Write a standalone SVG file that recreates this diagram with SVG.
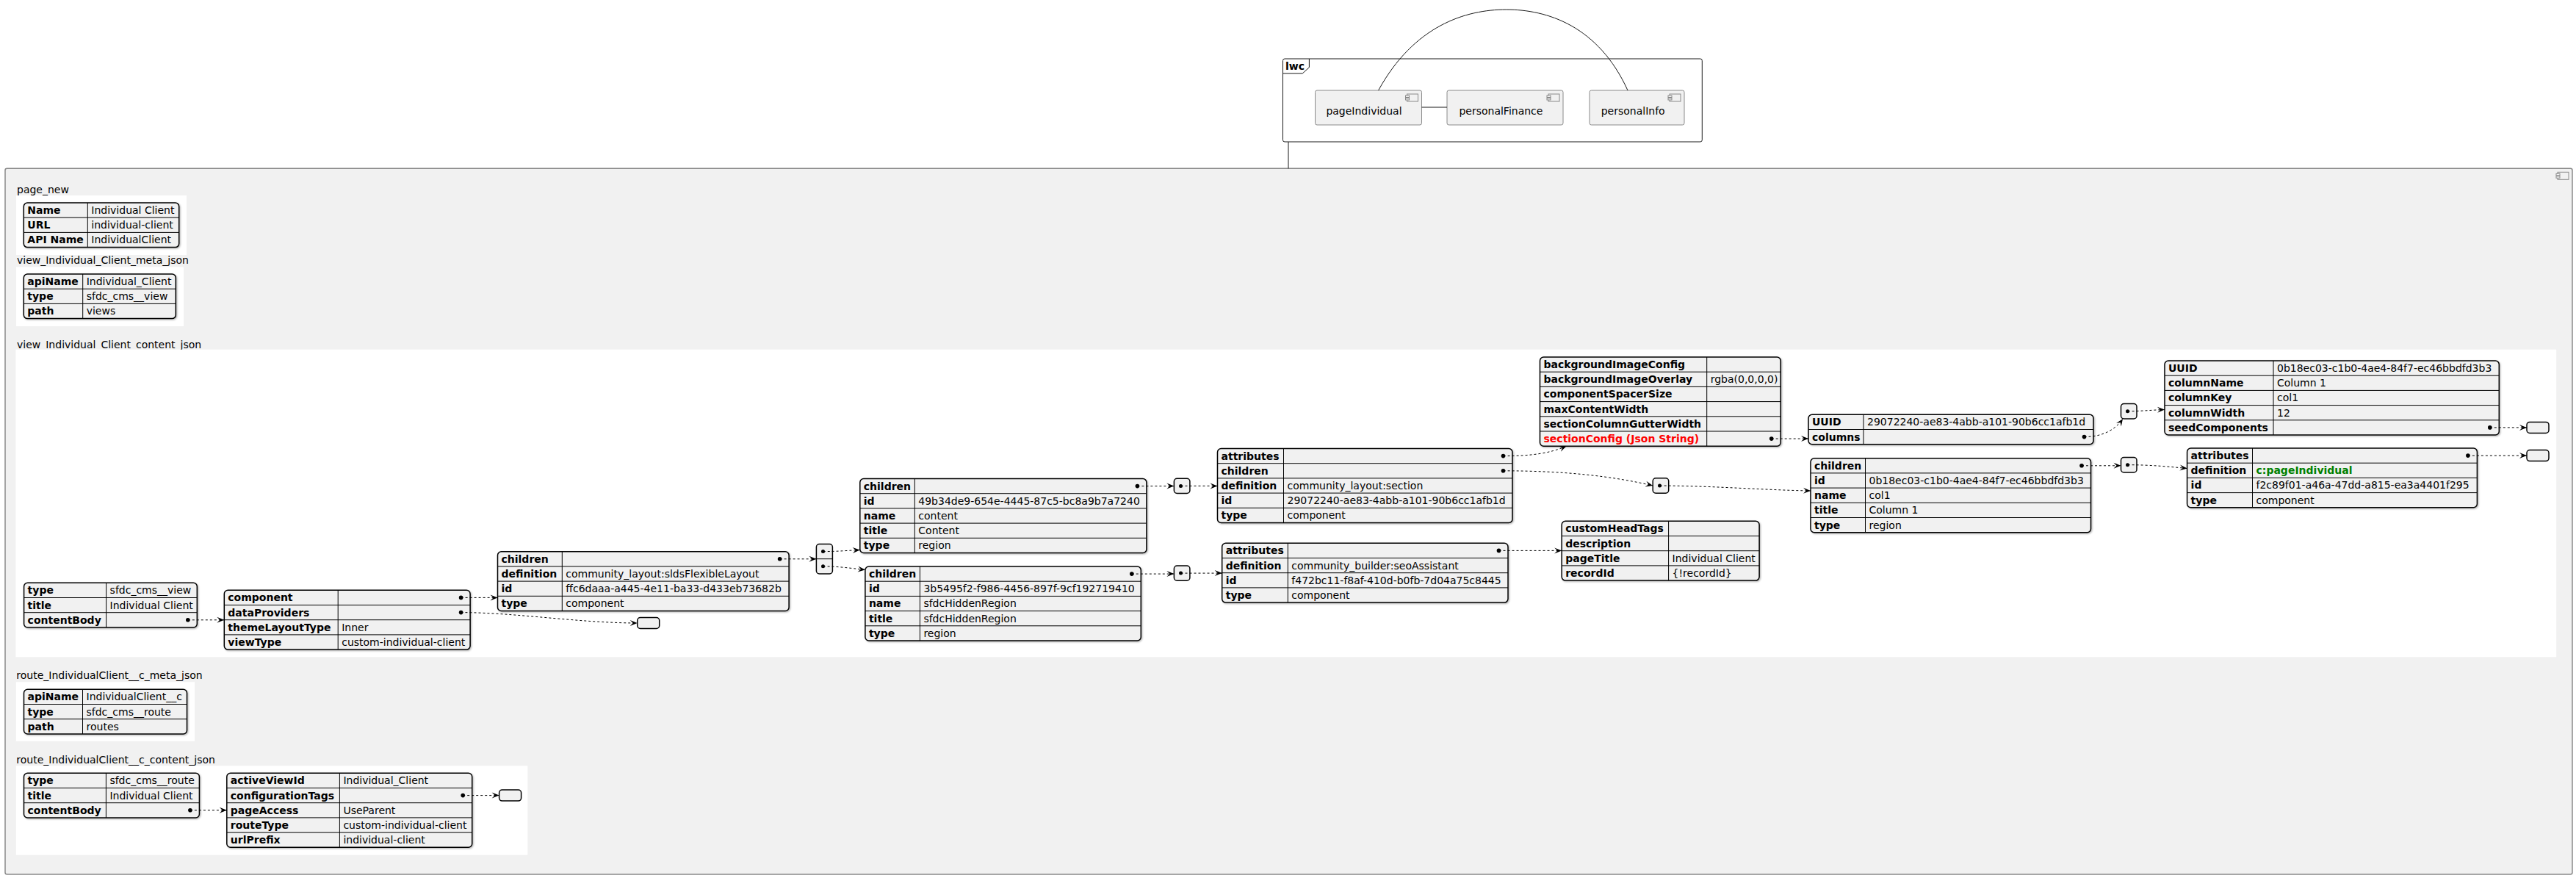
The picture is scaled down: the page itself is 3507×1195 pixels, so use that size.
<svg xmlns="http://www.w3.org/2000/svg" width="3507" height="1195" viewBox="0 0 3507 1195">
<style>
text{font-family:"DejaVu Sans","Liberation Sans",sans-serif;font-size:14px;fill:#000}
.k{font-weight:bold}
.box{fill:#F1F1F1;stroke:#000;stroke-width:1.5}
.grid{fill:none;stroke:#000;stroke-width:1}
.dot{fill:#000}
.lbox{fill:#F1F1F1;stroke:#000;stroke-width:1.5}
.wbg{fill:#FFFFFF}
.c{fill:none;stroke:#000;stroke-width:1;stroke-dasharray:3 3}
.comp{fill:#F1F1F1;stroke:#8A8A8A;stroke-width:1}
.cl{fill:none;stroke:#181818;stroke-width:1}
.red{fill:#FF0000;font-weight:bold}
.green{fill:#008000;font-weight:bold}
</style>
<defs>
<marker id="ah" markerUnits="userSpaceOnUse" markerWidth="11" markerHeight="9" refX="10" refY="4" orient="auto" overflow="visible">
<path d="M0,0 L10,4 L0,8 L4,4 Z" fill="#000"/>
</marker>
<filter id="sh" x="-5%" y="-10%" width="112%" height="125%">
<feDropShadow dx="1.2" dy="1.2" stdDeviation="0.8" flood-color="#000" flood-opacity="0.3"/>
</filter>
<g id="cicon" fill="#F1F1F1" stroke="#8A8A8A" stroke-width="1">
<rect x="2" y="0" width="15" height="10"/>
<rect x="0" y="2" width="5" height="2.5"/>
<rect x="0" y="5.5" width="5" height="2.5"/>
</g>
</defs>

<rect width="3507" height="1195" fill="#FFFFFF"/>

<!-- lwc frame with its components -->
<g id="lwc">
<rect x="1746.5" y="80" width="570.8" height="113" rx="2.5" fill="none" stroke="#181818" stroke-width="1"/>
<path d="M1746.5,100 H1773.2 L1782.4,91.7 V80" fill="none" stroke="#181818" stroke-width="1"/>
<text class="k" x="1750" y="95">lwc</text>
</g>
<g id="pageIndividual">
<rect class="comp" x="1790.5" y="123" width="145" height="47" rx="2.5"/>
<use href="#cicon" x="1913.5" y="128"/>
<text x="1805.4" y="155.5">pageIndividual</text>
</g>
<g id="personalFinance">
<rect class="comp" x="1970" y="123" width="158" height="47" rx="2.5"/>
<use href="#cicon" x="2106" y="128"/>
<text x="1986.4" y="155.5">personalFinance</text>
</g>
<g id="personalInfo">
<rect class="comp" x="2164" y="123" width="129" height="47" rx="2.5"/>
<use href="#cicon" x="2271" y="128"/>
<text x="2179.7" y="155.5">personalInfo</text>
</g>

<!-- main component container -->
<g id="container">
<rect x="7" y="229.3" width="3495" height="960.7" rx="2.5" fill="#F1F1F1" stroke="#8A8A8A" stroke-width="1.5"/>
<use href="#cicon" x="3480" y="234.3"/>
<text x="23" y="262.5">page_new</text>
<text x="23" y="358.5">view_Individual_Client_meta_json</text>
<text x="23" y="474">view_Individual_Client_content_json</text>
<text x="22.3" y="924.3">route_IndividualClient__c_meta_json</text>
<text x="22.3" y="1038.5">route_IndividualClient__c_content_json</text>
<rect class="wbg" x="22" y="266" width="232" height="81"/>
<rect class="wbg" x="22" y="363.3" width="228" height="80.7"/>
<rect class="wbg" x="21.4" y="475.7" width="3458.8" height="418.6"/>
<rect class="wbg" x="21.8" y="928.3" width="243.3" height="80.4"/>
<rect class="wbg" x="21.8" y="1042.3" width="696.5" height="121.4"/>
</g>

<!-- page_new -->
<g id="t-page-new">
<rect class="box" filter="url(#sh)" x="32.3" y="276" width="211.4" height="60.6" rx="5"/>
<path class="grid" d="M32.3,296.2 H243.7 M32.3,316.4 H243.7 M119.3,276 V336.6"/>
<text class="k" x="37.3" y="291">Name</text><text x="124.3" y="291">Individual Client</text>
<text class="k" x="37.3" y="311.2">URL</text><text x="124.3" y="311.2">individual-client</text>
<text class="k" x="37.3" y="331.4">API Name</text><text x="124.3" y="331.4">IndividualClient</text>
</g>

<!-- view meta -->
<g id="t-view-meta">
<rect class="box" filter="url(#sh)" x="32.3" y="373" width="207" height="60.6" rx="5"/>
<path class="grid" d="M32.3,393.2 H239.3 M32.3,413.4 H239.3 M112.7,373 V433.6"/>
<text class="k" x="37.3" y="388">apiName</text><text x="117.7" y="388">Individual_Client</text>
<text class="k" x="37.3" y="408.2">type</text><text x="117.7" y="408.2">sfdc_cms__view</text>
<text class="k" x="37.3" y="428.4">path</text><text x="117.7" y="428.4">views</text>
</g>

<!-- view content -->
<g id="t-view-root">
<rect class="box" filter="url(#sh)" x="32.6" y="793.3" width="235.7" height="60.6" rx="5"/>
<path class="grid" d="M32.6,813.5 H268.3 M32.6,833.7 H268.3 M144.6,793.3 V853.9"/>
<text class="k" x="37.6" y="808.3">type</text><text x="149.6" y="808.3">sfdc_cms__view</text>
<text class="k" x="37.6" y="828.5">title</text><text x="149.6" y="828.5">Individual Client</text>
<text class="k" x="37.6" y="848.7">contentBody</text>
<circle class="dot" cx="255.8" cy="843.8" r="2.8"/>
</g>

<g id="t-content-body">
<rect class="box" filter="url(#sh)" x="305.3" y="803.3" width="334.8" height="80.8" rx="5"/>
<path class="grid" d="M305.3,823.5 H640.1 M305.3,843.7 H640.1 M305.3,863.9 H640.1 M460.2,803.3 V884.1"/>
<text class="k" x="310.3" y="818.3">component</text>
<text class="k" x="310.3" y="838.5">dataProviders</text>
<text class="k" x="310.3" y="858.7">themeLayoutType</text><text x="465.2" y="858.7">Inner</text>
<text class="k" x="310.3" y="878.9">viewType</text><text x="465.2" y="878.9">custom-individual-client</text>
<circle class="dot" cx="627.6" cy="813.4" r="2.8"/>
<circle class="dot" cx="627.6" cy="833.6" r="2.8"/>
</g>

<g id="e-data-providers"><rect class="lbox" x="867.7" y="840.5" width="30" height="15" rx="4"/></g>

<g id="t-flexible-layout">
<rect class="box" filter="url(#sh)" x="677.5" y="750.7" width="396.6" height="80.8" rx="5"/>
<path class="grid" d="M677.5,770.9 H1074.1 M677.5,791.1 H1074.1 M677.5,811.3 H1074.1 M765.3,750.7 V831.5"/>
<text class="k" x="682.5" y="765.7">children</text>
<text class="k" x="682.5" y="785.9">definition</text><text x="770.3" y="785.9">community_layout:sldsFlexibleLayout</text>
<text class="k" x="682.5" y="806.1">id</text><text x="770.3" y="806.1">ffc6daaa-a445-4e11-ba33-d433eb73682b</text>
<text class="k" x="682.5" y="826.3">type</text><text x="770.3" y="826.3">component</text>
<circle class="dot" cx="1061.6" cy="760.8" r="2.8"/>
</g>

<g id="l-layout-children">
<rect class="lbox" x="1111.4" y="740.5" width="22" height="40.4" rx="4"/>
<path class="grid" d="M1111.4,760.7 H1133.4"/>
<circle class="dot" cx="1120.5" cy="750.6" r="2.5"/>
<circle class="dot" cx="1120.5" cy="770.8" r="2.5"/>
</g>

<g id="t-region-content">
<rect class="box" filter="url(#sh)" x="1170.8" y="651.5" width="390.1" height="101" rx="5"/>
<path class="grid" d="M1170.8,671.7 H1560.9 M1170.8,691.9 H1560.9 M1170.8,712.1 H1560.9 M1170.8,732.3 H1560.9 M1245.3,651.5 V752.5"/>
<text class="k" x="1175.8" y="666.5">children</text>
<text class="k" x="1175.8" y="686.7">id</text><text x="1250.3" y="686.7">49b34de9-654e-4445-87c5-bc8a9b7a7240</text>
<text class="k" x="1175.8" y="706.9">name</text><text x="1250.3" y="706.9">content</text>
<text class="k" x="1175.8" y="727.1">title</text><text x="1250.3" y="727.1">Content</text>
<text class="k" x="1175.8" y="747.3">type</text><text x="1250.3" y="747.3">region</text>
<circle class="dot" cx="1548.4" cy="661.6" r="2.8"/>
</g>

<g id="t-region-hidden">
<rect class="box" filter="url(#sh)" x="1177.9" y="771" width="375.4" height="101" rx="5"/>
<path class="grid" d="M1177.9,791.2 H1553.3 M1177.9,811.4 H1553.3 M1177.9,831.6 H1553.3 M1177.9,851.8 H1553.3 M1252.4,771 V872"/>
<text class="k" x="1182.9" y="786">children</text>
<text class="k" x="1182.9" y="806.2">id</text><text x="1257.4" y="806.2">3b5495f2-f986-4456-897f-9cf192719410</text>
<text class="k" x="1182.9" y="826.4">name</text><text x="1257.4" y="826.4">sfdcHiddenRegion</text>
<text class="k" x="1182.9" y="846.6">title</text><text x="1257.4" y="846.6">sfdcHiddenRegion</text>
<text class="k" x="1182.9" y="866.8">type</text><text x="1257.4" y="866.8">region</text>
<circle class="dot" cx="1540.8" cy="781.1" r="2.8"/>
</g>

<g id="l-content-children">
<rect class="lbox" x="1598.4" y="651.3" width="21.5" height="20.2" rx="4"/>
<circle class="dot" cx="1607.5" cy="661.4" r="2.5"/>
</g>
<g id="l-hidden-children">
<rect class="lbox" x="1598.4" y="770" width="21.5" height="20.2" rx="4"/>
<circle class="dot" cx="1607.5" cy="780.1" r="2.5"/>
</g>

<g id="t-section">
<rect class="box" filter="url(#sh)" x="1657.5" y="610.5" width="401.5" height="101" rx="5"/>
<path class="grid" d="M1657.5,630.7 H2059 M1657.5,650.9 H2059 M1657.5,671.1 H2059 M1657.5,691.3 H2059 M1747.5,610.5 V711.5"/>
<text class="k" x="1662.5" y="625.5">attributes</text>
<text class="k" x="1662.5" y="645.7">children</text>
<text class="k" x="1662.5" y="665.9">definition</text><text x="1752.5" y="665.9">community_layout:section</text>
<text class="k" x="1662.5" y="686.1">id</text><text x="1752.5" y="686.1">29072240-ae83-4abb-a101-90b6cc1afb1d</text>
<text class="k" x="1662.5" y="706.3">type</text><text x="1752.5" y="706.3">component</text>
<circle class="dot" cx="2046.5" cy="620.6" r="2.8"/>
<circle class="dot" cx="2046.5" cy="640.8" r="2.8"/>
</g>

<g id="t-seo">
<rect class="box" filter="url(#sh)" x="1663.7" y="739.3" width="389.3" height="80.8" rx="5"/>
<path class="grid" d="M1663.7,759.5 H2053 M1663.7,779.7 H2053 M1663.7,799.9 H2053 M1753.3,739.3 V820.1"/>
<text class="k" x="1668.7" y="754.3">attributes</text>
<text class="k" x="1668.7" y="774.5">definition</text><text x="1758.3" y="774.5">community_builder:seoAssistant</text>
<text class="k" x="1668.7" y="794.7">id</text><text x="1758.3" y="794.7">f472bc11-f8af-410d-b0fb-7d04a75c8445</text>
<text class="k" x="1668.7" y="814.9">type</text><text x="1758.3" y="814.9">component</text>
<circle class="dot" cx="2040.5" cy="749.4" r="2.8"/>
</g>

<g id="t-section-attributes">
<rect class="box" filter="url(#sh)" x="2096.5" y="486" width="327.7" height="121.2" rx="5"/>
<path class="grid" d="M2096.5,506.2 H2424.2 M2096.5,526.4 H2424.2 M2096.5,546.6 H2424.2 M2096.5,566.8 H2424.2 M2096.5,587 H2424.2 M2323.7,486 V607.2"/>
<text class="k" x="2101.5" y="501">backgroundImageConfig</text>
<text class="k" x="2101.5" y="521.2">backgroundImageOverlay</text><text x="2328.7" y="521.2">rgba(0,0,0,0)</text>
<text class="k" x="2101.5" y="541.4">componentSpacerSize</text>
<text class="k" x="2101.5" y="561.6">maxContentWidth</text>
<text class="k" x="2101.5" y="581.8">sectionColumnGutterWidth</text>
<text class="red" x="2101.5" y="602">sectionConfig (Json String)</text>
<circle class="dot" cx="2411.7" cy="597.1" r="2.8"/>
</g>

<g id="t-seo-attributes">
<rect class="box" filter="url(#sh)" x="2126.2" y="709.3" width="268.9" height="80.8" rx="5"/>
<path class="grid" d="M2126.2,729.5 H2395.1 M2126.2,749.7 H2395.1 M2126.2,769.9 H2395.1 M2271.6,709.3 V790.1"/>
<text class="k" x="2131.2" y="724.3">customHeadTags</text>
<text class="k" x="2131.2" y="744.5">description</text>
<text class="k" x="2131.2" y="764.7">pageTitle</text><text x="2276.6" y="764.7">Individual Client</text>
<text class="k" x="2131.2" y="784.9">recordId</text><text x="2276.6" y="784.9">{!recordId}</text>
</g>

<g id="l-section-children">
<rect class="lbox" x="2250.2" y="650.8" width="21.5" height="20.4" rx="4"/>
<circle class="dot" cx="2259.5" cy="661" r="2.5"/>
</g>

<g id="t-section-config">
<rect class="box" filter="url(#sh)" x="2462" y="564.3" width="388" height="40.4" rx="5"/>
<path class="grid" d="M2462,584.5 H2850 M2537,564.3 V604.7"/>
<text class="k" x="2467" y="579.3">UUID</text><text x="2542" y="579.3">29072240-ae83-4abb-a101-90b6cc1afb1d</text>
<text class="k" x="2467" y="599.5">columns</text>
<circle class="dot" cx="2837.5" cy="594.6" r="2.8"/>
</g>

<g id="l-columns">
<rect class="lbox" x="2887.5" y="549.5" width="21.5" height="20.4" rx="4"/>
<circle class="dot" cx="2896.5" cy="559.7" r="2.5"/>
</g>

<g id="t-column">
<rect class="box" filter="url(#sh)" x="2947" y="491" width="455.3" height="101" rx="5"/>
<path class="grid" d="M2947,511.2 H3402.3 M2947,531.4 H3402.3 M2947,551.6 H3402.3 M2947,571.8 H3402.3 M3095,491 V592"/>
<text class="k" x="2952" y="506">UUID</text><text x="3100" y="506">0b18ec03-c1b0-4ae4-84f7-ec46bbdfd3b3</text>
<text class="k" x="2952" y="526.2">columnName</text><text x="3100" y="526.2">Column 1</text>
<text class="k" x="2952" y="546.4">columnKey</text><text x="3100" y="546.4">col1</text>
<text class="k" x="2952" y="566.6">columnWidth</text><text x="3100" y="566.6">12</text>
<text class="k" x="2952" y="586.8">seedComponents</text>
<circle class="dot" cx="3389.8" cy="581.9" r="2.8"/>
</g>

<g id="e-seed-components"><rect class="lbox" x="3440" y="574.4" width="30" height="15" rx="4"/></g>

<g id="t-region-col1">
<rect class="box" filter="url(#sh)" x="2465" y="623.7" width="381.5" height="101" rx="5"/>
<path class="grid" d="M2465,643.9 H2846.5 M2465,664.1 H2846.5 M2465,684.3 H2846.5 M2465,704.5 H2846.5 M2539.5,623.7 V724.7"/>
<text class="k" x="2470" y="638.7">children</text>
<text class="k" x="2470" y="658.9">id</text><text x="2544.5" y="658.9">0b18ec03-c1b0-4ae4-84f7-ec46bbdfd3b3</text>
<text class="k" x="2470" y="679.1">name</text><text x="2544.5" y="679.1">col1</text>
<text class="k" x="2470" y="699.3">title</text><text x="2544.5" y="699.3">Column 1</text>
<text class="k" x="2470" y="719.5">type</text><text x="2544.5" y="719.5">region</text>
<circle class="dot" cx="2834" cy="633.8" r="2.8"/>
</g>

<g id="l-col1-children">
<rect class="lbox" x="2887.5" y="622.5" width="21.5" height="20.4" rx="4"/>
<circle class="dot" cx="2896.5" cy="632.7" r="2.5"/>
</g>

<g id="t-page-individual">
<rect class="box" filter="url(#sh)" x="2977.6" y="610" width="394.8" height="80.8" rx="5"/>
<path class="grid" d="M2977.6,630.2 H3372.4 M2977.6,650.4 H3372.4 M2977.6,670.6 H3372.4 M3066.5,610 V690.8"/>
<text class="k" x="2982.6" y="625">attributes</text>
<text class="k" x="2982.6" y="645.2">definition</text><text class="green" x="3071.5" y="645.2">c:pageIndividual</text>
<text class="k" x="2982.6" y="665.4">id</text><text x="3071.5" y="665.4">f2c89f01-a46a-47dd-a815-ea3a4401f295</text>
<text class="k" x="2982.6" y="685.6">type</text><text x="3071.5" y="685.6">component</text>
<circle class="dot" cx="3359.9" cy="620.1" r="2.8"/>
</g>

<g id="e-page-individual-attributes"><rect class="lbox" x="3440" y="612.6" width="30" height="15" rx="4"/></g>

<!-- route meta -->
<g id="t-route-meta">
<rect class="box" filter="url(#sh)" x="32.5" y="938.3" width="222" height="60.6" rx="5"/>
<path class="grid" d="M32.5,958.5 H254.5 M32.5,978.7 H254.5 M112.5,938.3 V998.9"/>
<text class="k" x="37.5" y="953.3">apiName</text><text x="117.5" y="953.3">IndividualClient__c</text>
<text class="k" x="37.5" y="973.5">type</text><text x="117.5" y="973.5">sfdc_cms__route</text>
<text class="k" x="37.5" y="993.7">path</text><text x="117.5" y="993.7">routes</text>
</g>

<!-- route content -->
<g id="t-route-root">
<rect class="box" filter="url(#sh)" x="32.5" y="1052.3" width="238.9" height="60.6" rx="5"/>
<path class="grid" d="M32.5,1072.5 H271.4 M32.5,1092.7 H271.4 M144.4,1052.3 V1112.9"/>
<text class="k" x="37.5" y="1067.3">type</text><text x="149.4" y="1067.3">sfdc_cms__route</text>
<text class="k" x="37.5" y="1087.5">title</text><text x="149.4" y="1087.5">Individual Client</text>
<text class="k" x="37.5" y="1107.7">contentBody</text>
<circle class="dot" cx="258.9" cy="1102.8" r="2.8"/>
</g>

<g id="t-route-body">
<rect class="box" filter="url(#sh)" x="308.8" y="1052.3" width="333.9" height="101" rx="5"/>
<path class="grid" d="M308.8,1072.5 H642.7 M308.8,1092.7 H642.7 M308.8,1112.9 H642.7 M308.8,1133.1 H642.7 M462.4,1052.3 V1153.3"/>
<text class="k" x="313.8" y="1067.3">activeViewId</text><text x="467.4" y="1067.3">Individual_Client</text>
<text class="k" x="313.8" y="1087.5">configurationTags</text>
<text class="k" x="313.8" y="1107.7">pageAccess</text><text x="467.4" y="1107.7">UseParent</text>
<text class="k" x="313.8" y="1127.9">routeType</text><text x="467.4" y="1127.9">custom-individual-client</text>
<text class="k" x="313.8" y="1148.1">urlPrefix</text><text x="467.4" y="1148.1">individual-client</text>
<circle class="dot" cx="630.2" cy="1082.6" r="2.8"/>
</g>

<g id="e-configuration-tags"><rect class="lbox" x="679.6" y="1075.1" width="30" height="15" rx="4"/></g>

<!-- connectors -->
<g id="connectors">
<path class="cl" d="M1935.5,146 H1970"/>
<path class="cl" d="M1876.6,123 C1925,35 1995,13 2050.7,13 C2106,13 2176,35 2216,123"/>
<path class="cl" d="M1754,193 V229.3"/>
<g marker-end="url(#ah)">
<path class="c" d="M255.8,843.8 H305.3"/>
<path class="c" d="M627.6,813.4 H677.5"/>
<path class="c" d="M627.6,833.6 C700,833.6 790,848 867.7,848"/>
<path class="c" d="M1061.6,760.8 H1111.4"/>
<path class="c" d="M1120.5,750.6 C1140,750.6 1150,749.5 1170.8,748.5"/>
<path class="c" d="M1120.5,770.8 C1140,770.8 1155,773 1177.9,775.5"/>
<path class="c" d="M1548.4,661.6 H1598.4"/>
<path class="c" d="M1607.5,661.4 H1657.5"/>
<path class="c" d="M1540.8,781.1 H1598.4"/>
<path class="c" d="M1607.5,780.1 H1663.7"/>
<path class="c" d="M2040.5,749.4 H2126.2"/>
<path class="c" d="M2046.5,620.6 C2085,620.6 2110,617 2132.5,607.2"/>
<path class="c" d="M2046.5,640.8 C2130,640.8 2195,648 2250.2,661"/>
<path class="c" d="M2259.5,661 C2340,661.5 2400,667 2465,668"/>
<path class="c" d="M2411.7,597.1 H2462"/>
<path class="c" d="M2837.5,594.6 C2862,594.6 2880,585 2890,570"/>
<path class="c" d="M2896.5,559.7 C2915,559.7 2930,558 2947,557.5"/>
<path class="c" d="M3389.8,581.9 H3440"/>
<path class="c" d="M2834,633.8 H2887.5"/>
<path class="c" d="M2896.5,632.7 C2930,632.7 2950,635 2977.6,637.5"/>
<path class="c" d="M3359.9,620.1 H3440"/>
<path class="c" d="M258.9,1102.8 H308.8"/>
<path class="c" d="M630.2,1082.6 H679.6"/>
</g>
</g>
</svg>
